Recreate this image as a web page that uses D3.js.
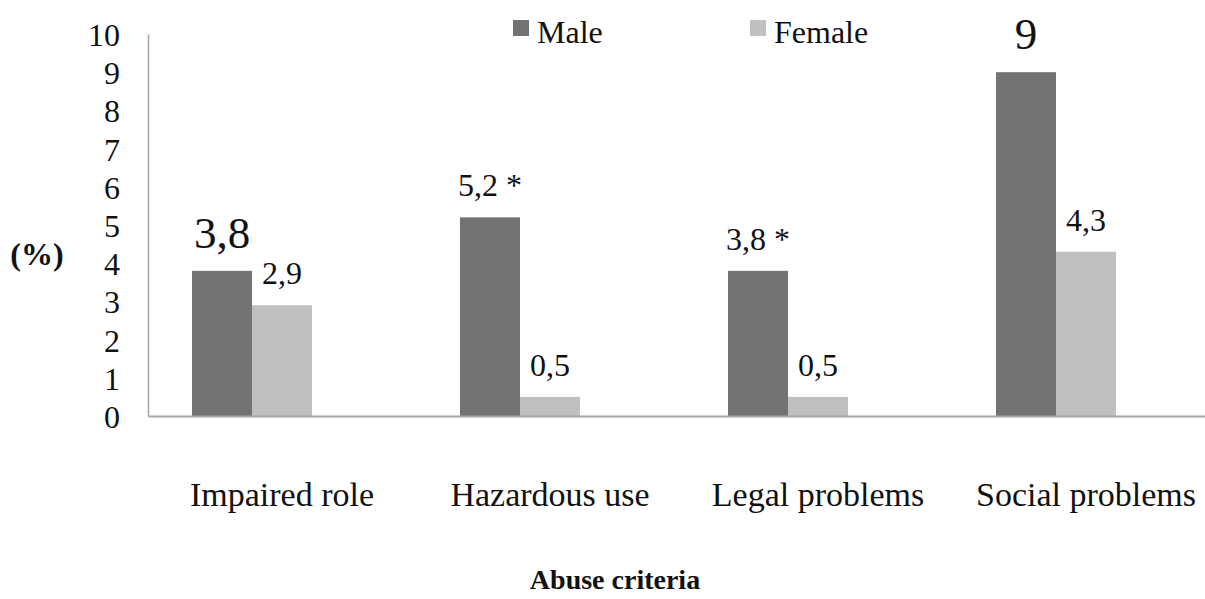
<!DOCTYPE html>
<html>
<head>
<meta charset="utf-8">
<script src="https://cdn.jsdelivr.net/npm/d3@7"></script>
<style>
  html, body { margin: 0; padding: 0; background: #fff; }
  svg text { font-family: "Liberation Serif", "Times New Roman", serif; }
</style>
</head>
<body>
<svg id="chart" width="1205" height="599"></svg>
<script>
const categories = ["Impaired role", "Hazardous use", "Legal problems", "Social problems"];
const seriesNames = ["Male", "Female"];
const maleValues = [3.8, 5.2, 3.8, 9];
const femaleValues = [2.9, 0.5, 0.5, 4.3];
const maleLabels = ["3,8", "5,2 *", "3,8 *", "9"];
const femaleLabels = ["2,9", "0,5", "0,5", "4,3"];
const yTicks = [0, 1, 2, 3, 4, 5, 6, 7, 8, 9, 10];
const yTitle = "(%)";
const xTitle = "Abuse criteria";

const FONT = "'Liberation Serif', 'Times New Roman', serif";
const colors = { Male: "#737373", Female: "#c0c0c0" };
const textColor = "#111";
const axisColor = "#a6a6a6";

const svg = d3.select("#chart");

const y = d3.scaleLinear().domain([0, 10]).range([416, 34]);
const x = d3.scaleBand().domain(categories).range([148, 1220]).padding(0);
const xInner = d3.scaleBand().domain(seriesNames).range([-90, 30]).padding(0);

const data = categories.map((c, i) => ({
  cat: c,
  vals: [
    { s: "Male", v: maleValues[i], label: maleLabels[i] },
    { s: "Female", v: femaleValues[i], label: femaleLabels[i] }
  ]
}));

// bars
const groups = svg.append("g").selectAll("g").data(data).join("g")
  .attr("transform", d => `translate(${x(d.cat) + x.bandwidth() / 2},0)`);

groups.selectAll("rect").data(d => d.vals).join("rect")
  .attr("x", d => xInner(d.s))
  .attr("width", xInner.bandwidth())
  .attr("y", d => y(d.v))
  .attr("height", d => y(0) - y(d.v))
  .attr("fill", d => colors[d.s]);

// value labels
const bigLabel = d => (d.s === "Male" && (d.label === "3,8" || d.label === "9"));
groups.selectAll("text.val").data(d => d.vals).join("text")
  .attr("class", "val")
  .attr("x", d => xInner(d.s) + xInner.bandwidth() / 2)
  .attr("y", d => y(d.v) - (bigLabel(d) ? 23 : 21))
  .attr("text-anchor", "middle")
  .style("font-family", FONT)
  .style("font-size", d => (bigLabel(d) ? 45 : 32) + "px")
  .attr("fill", textColor)
  .text(d => d.label);

// y axis
const yAxis = svg.append("g").attr("transform", "translate(148,0)")
  .call(d3.axisLeft(y).tickValues(yTicks).tickSize(0).tickPadding(28).tickFormat(d3.format("d")));
yAxis.select(".domain").attr("stroke", axisColor).attr("stroke-width", 1.5);
yAxis.selectAll("text")
  .style("font-family", FONT).style("font-size", "32px")
  .attr("fill", textColor).attr("dy", "0.36em");

// x axis
const xAxis = svg.append("g").attr("transform", "translate(0,416)")
  .call(d3.axisBottom(x).tickSize(0).tickPadding(66));
xAxis.select(".domain").attr("stroke", axisColor).attr("stroke-width", 2);
xAxis.selectAll("text")
  .style("font-family", FONT).style("font-size", "34px")
  .attr("fill", textColor);

// titles
svg.append("text").attr("x", 37).attr("y", 265).attr("text-anchor", "middle")
  .style("font-family", FONT).style("font-size", "32px").style("font-weight", "bold")
  .attr("fill", textColor).text(yTitle);
svg.append("text").attr("x", 615).attr("y", 589).attr("text-anchor", "middle")
  .style("font-family", FONT).style("font-size", "28px").style("font-weight", "bold")
  .attr("fill", textColor).text(xTitle);

// legend
const legendX = { Male: 513, Female: 750 };
const lg = svg.append("g").selectAll("g").data(seriesNames).join("g")
  .attr("transform", d => `translate(${legendX[d]},20)`);
lg.append("rect").attr("width", 16).attr("height", 16).attr("fill", d => colors[d]);
lg.append("text").attr("x", 24).attr("y", 23)
  .style("font-family", FONT).style("font-size", "32px")
  .attr("fill", textColor).text(d => d);
</script>
</body>
</html>
